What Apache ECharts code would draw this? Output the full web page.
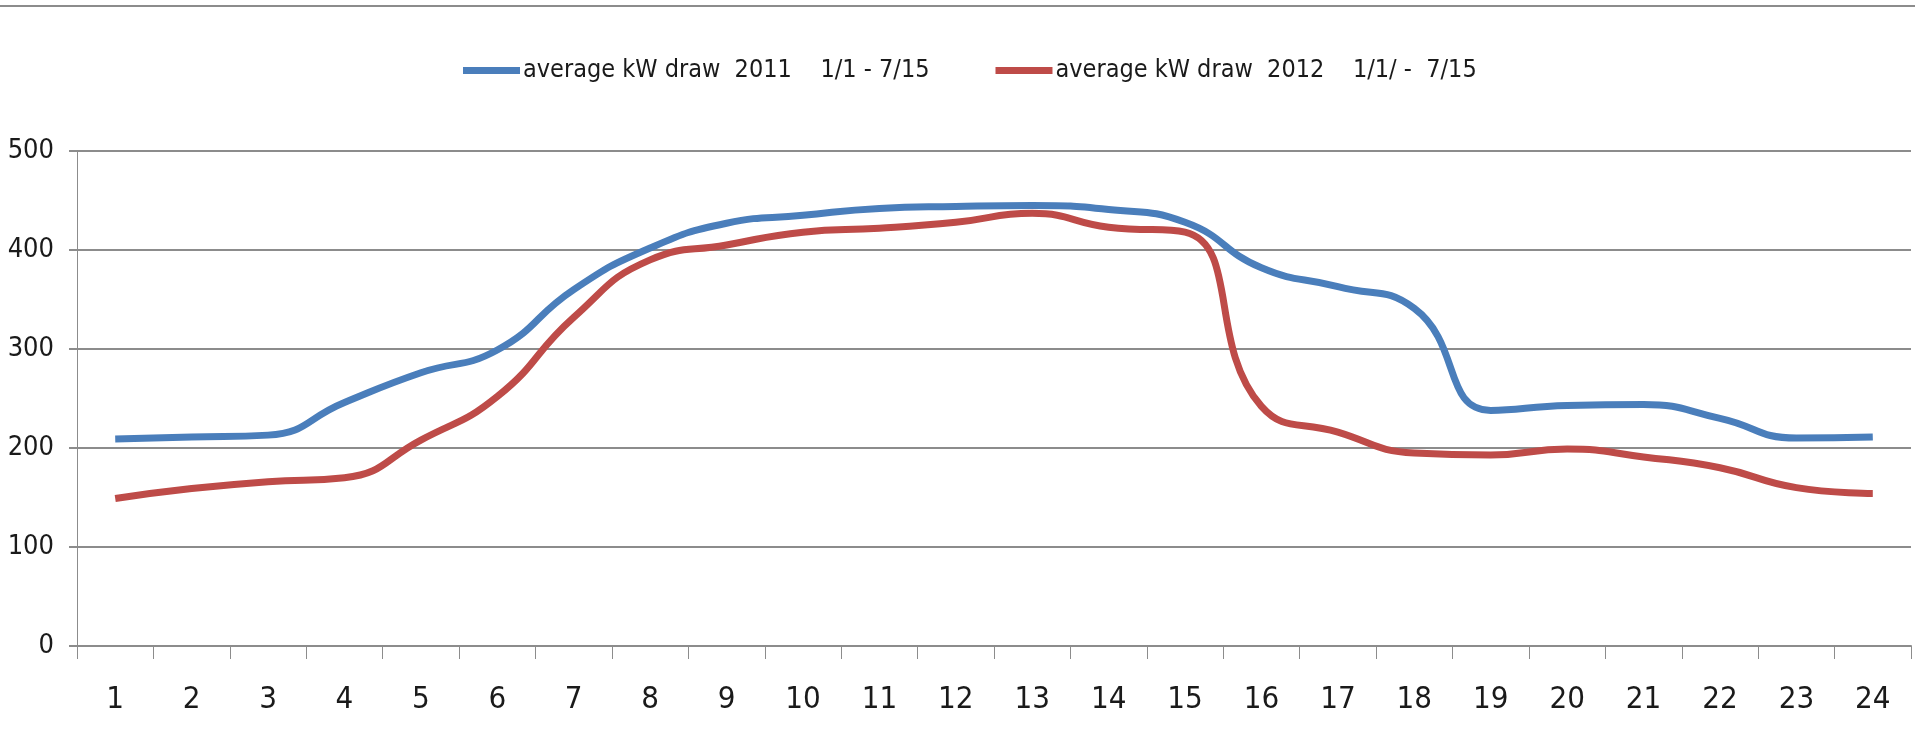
<!DOCTYPE html>
<html>
<head>
<meta charset="utf-8">
<script src="https://cdn.jsdelivr.net/npm/echarts@6/dist/echarts.min.js"></script>
<style>
  html, body { margin: 0; padding: 0; background: #fff; }
  #chart { width: 1915px; height: 740px; }
</style>
</head>
<body>
<div id="chart"></div>
<script>
// hours of the day
const hours = ['1', '2', '3', '4', '5', '6', '7', '8', '9', '10', '11', '12',
  '13', '14', '15', '16', '17', '18', '19', '20', '21', '22', '23', '24'];
// average kW draw 2011, 1/1 - 7/15
const draw2011 = [209, 211, 213, 246, 276, 299, 360, 402, 427, 435, 442, 444,
  445, 441, 428, 382, 363, 341, 238, 243, 244, 230, 210, 211];
// average kW draw 2012, 1/1 - 7/15
const draw2012 = [149, 159, 166, 170, 208, 252, 332, 390, 405, 418, 422, 428,
  437, 423, 418, 242, 216, 195, 193, 199, 191, 180, 160, 154];
const seriesNames = ['average kW draw  2011    1/1 - 7/15', 'average kW draw  2012    1/1/ -  7/15'];

const font = "'Liberation Sans Narrow', 'DejaVu Sans Condensed', sans-serif";
const chart = echarts.init(document.getElementById('chart'));

const option = {
  animation: false,
  backgroundColor: '#fff',
  textStyle: { fontFamily: font, color: '#1a1a1a' },
  graphic: [{
    // chart frame top edge
    type: 'line',
    shape: { x1: 0, y1: 6, x2: 1915, y2: 6 },
    style: { stroke: '#8c8c8c', lineWidth: 2 }
  }],
  legend: {
    left: 458,
    top: 53,
    itemWidth: 57,
    itemHeight: 7,
    itemGap: 66,
    icon: 'rect',
    textStyle: { fontFamily: font, fontSize: 25, color: '#1a1a1a', padding: [0, 0, 0, -2] },
    data: seriesNames
  },
  grid: { left: 77, right: 4, top: 151, bottom: 94, outerBoundsMode: 'none' },
  xAxis: {
    type: 'category',
    data: hours,
    boundaryGap: true,
    axisLine: { lineStyle: { color: '#8c8c8c', width: 2 } },
    axisTick: { show: true, length: 13, lineStyle: { color: '#8c8c8c', width: 1 } },
    axisLabel: { fontFamily: font, fontSize: 31, color: '#1a1a1a', margin: 38 }
  },
  yAxis: {
    type: 'value',
    min: 0,
    max: 500,
    interval: 100,
    axisLine: { show: true, lineStyle: { color: '#8c8c8c', width: 1 } },
    axisTick: { show: true, length: 8, lineStyle: { color: '#8c8c8c', width: 2 } },
    axisLabel: { fontFamily: font, fontSize: 27, color: '#1a1a1a', margin: 23 },
    splitLine: { lineStyle: { color: '#8c8c8c', width: 2 } }
  },
  series: [
    {
      name: seriesNames[0],
      type: 'line',
      data: draw2011,
      smooth: 0.5,
      showSymbol: false,
      lineStyle: { color: '#4a7ebb', width: 7 },
      itemStyle: { color: '#4a7ebb' }
    },
    {
      name: seriesNames[1],
      type: 'line',
      data: draw2012,
      smooth: 0.5,
      showSymbol: false,
      lineStyle: { color: '#be4b48', width: 7 },
      itemStyle: { color: '#be4b48' }
    }
  ]
};
option && chart.setOption(option);
</script>
</body>
</html>
